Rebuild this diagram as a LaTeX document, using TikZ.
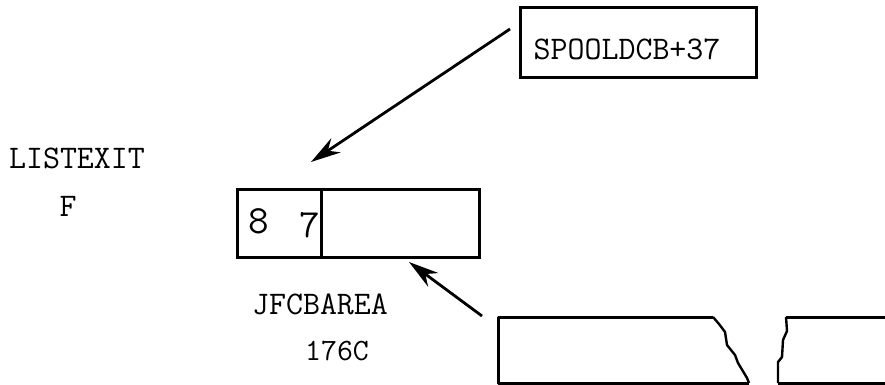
\documentclass[tikz,border=0pt]{standalone}
\usepackage{fontspec}
\setmonofont{Latin Modern Mono}
\usetikzlibrary{arrows.meta}
\begin{document}
\begin{tikzpicture}[x=1pt,y=-1pt,
  txt/.style={font=\fontsize{33}{36}\selectfont\ttfamily, inner sep=0pt},
  big/.style={font=\fontsize{40}{44}\selectfont\ttfamily, inner sep=0pt},
  boxline/.style={line width=3pt},
  arr/.style={line width=2.8pt, -{Stealth[length=30pt,width=17pt]}}]
\useasboundingbox (0,0) rectangle (885,385);
% SPOOLDCB box
\node[boxline, draw, minimum width=236pt, minimum height=70pt, inner sep=0pt] (spool) at (638,43) {};
\node[txt] (spooltxt) at (627,49) {SPOOLDCB+37};
% left labels
\node[txt] (listexit) at (77,158) {LISTEXIT};
\node[txt] (f) at (68,206) {F};
% JFCB box
\node[boxline, draw, minimum width=84pt, minimum height=68pt, inner sep=0pt] (cellA) at (279,223) {};
\node[boxline, draw, minimum width=158pt, minimum height=68pt, inner sep=0pt] (cellB) at (400,223) {};
\node[big] (eight) at (259,221) {8};
\node[big] (seven) at (310,225) {7};
\node[txt] (jfcb) at (320,304) {JFCBAREA};
\node[font=\fontsize{31}{34}\selectfont\ttfamily, inner sep=0pt] (num) at (337,351) {176C};
% arrows
\coordinate (a1s) at (510,29);
\coordinate (a1e) at (311,162);
\draw[arr] (a1s) -- (a1e);
\coordinate (a2s) at (482,316);
\coordinate (a2e) at (409,262);
\draw[arr] (a2s) -- (a2e);
% broken boxes
\draw[boxline, line join=round] (713,317) -- (498,317) -- (498,383) -- (749,383);
\draw[line width=2.4pt, line join=round] (713,317) -- (719,324) -- (725,332) -- (727,345) -- (735,355) -- (738,363) -- (747,378) -- (749,383);
\draw[boxline] (885,317) -- (786,317);
\draw[line width=2.4pt, line join=round] (786,317) -- (787,331) -- (783,340) -- (782,357) -- (778,362) -- (778,383);
\draw[boxline] (778,383) -- (885,383);
\end{tikzpicture}
\end{document}
